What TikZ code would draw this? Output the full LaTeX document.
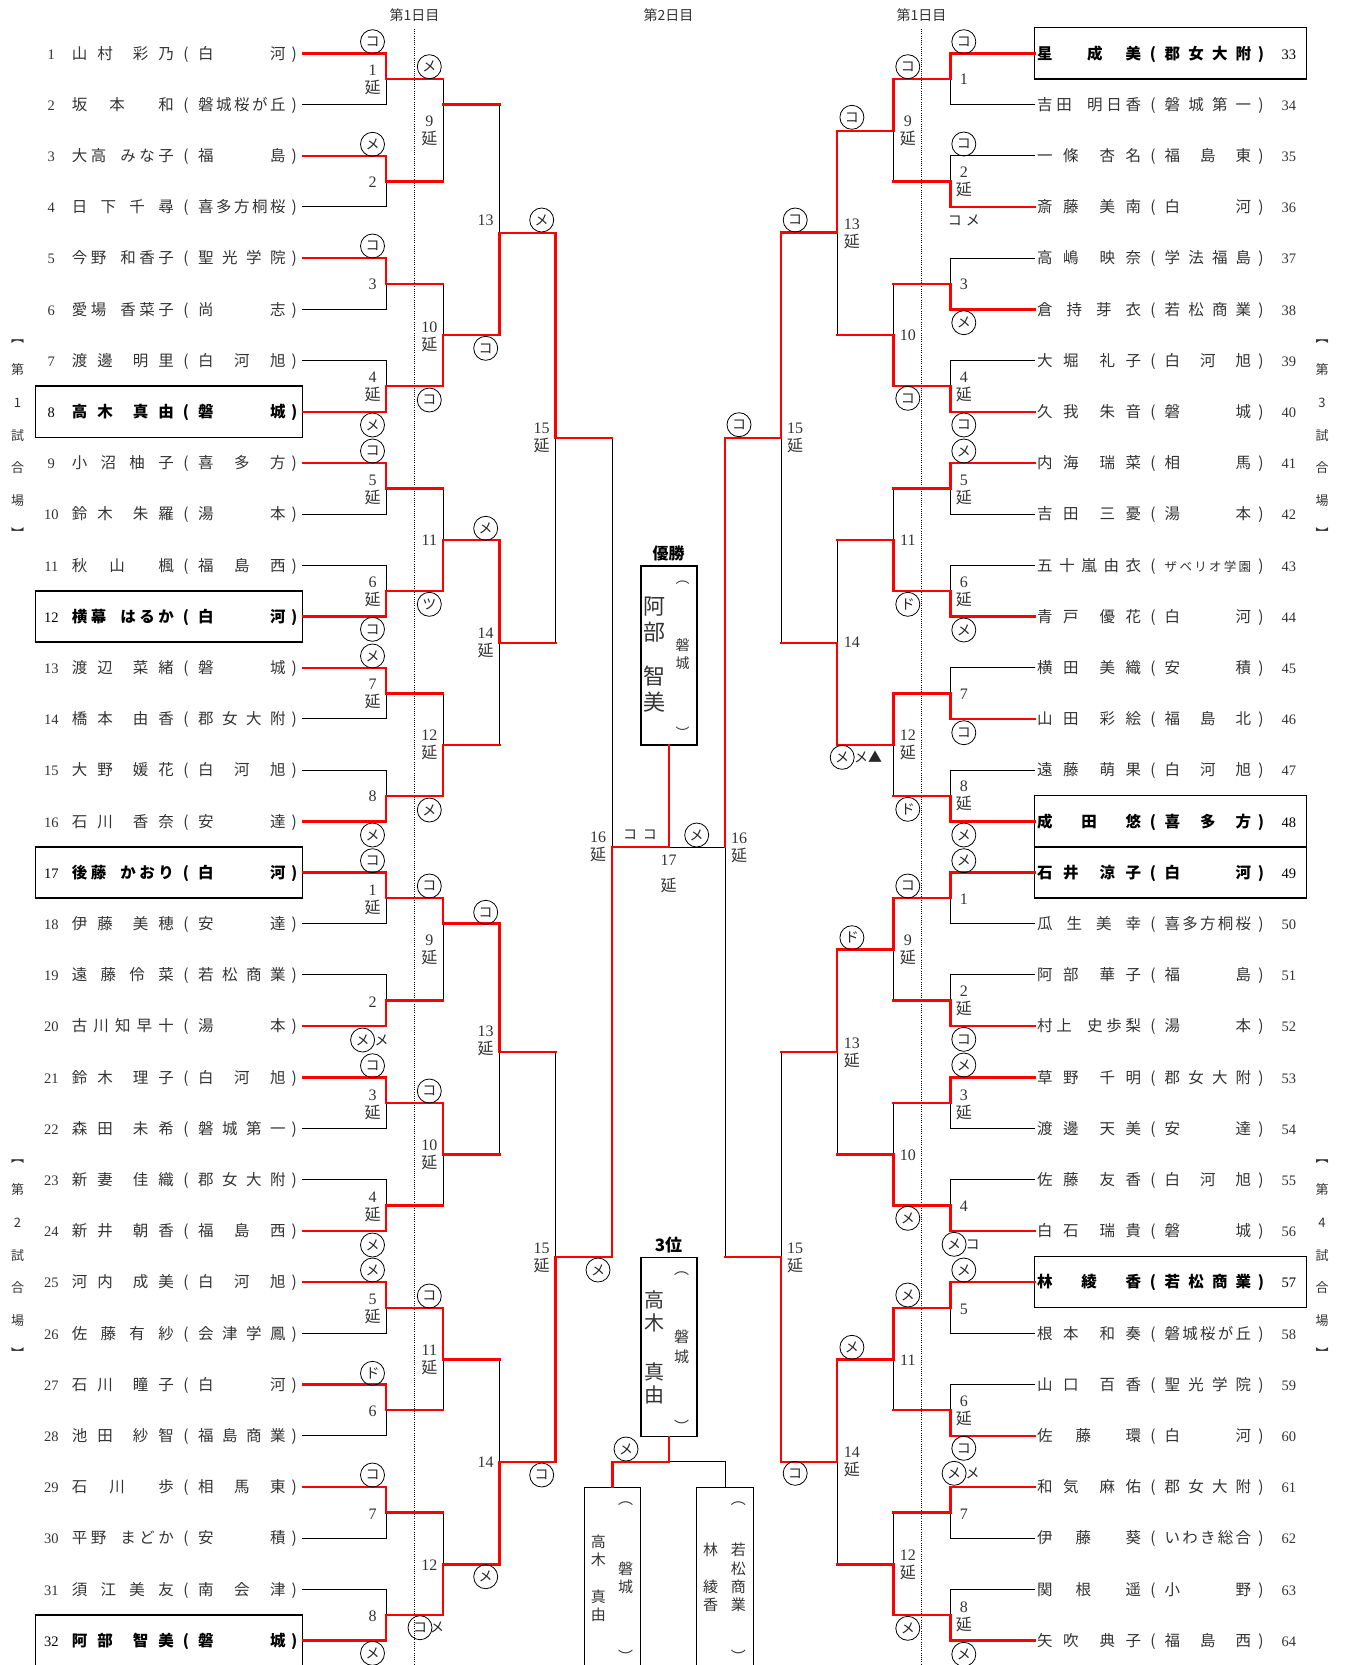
\documentclass[tikz,border=0pt]{standalone}
\usepackage{fontspec}
\setmainfont{Liberation Serif}
\newfontfamily\jp{Noto Sans CJK JP}
\newfontfamily\numfont{Liberation Serif}
\newcommand{\en}{{\jp 延}}
\newcommand{\lp}[3]{\makebox[31pt]{\numfont\mdseries\fontsize{14.5}{14.5}\selectfont #1}\hspace{5pt}\makebox[102pt]{#2}\makebox[24.4pt]{(}\makebox[87.5pt]{#3}\makebox[16.9pt]{)}}
\newcommand{\rp}[3]{\hspace{2.6pt}\makebox[104pt]{#2}\makebox[23.5pt]{(}\makebox[86.5pt]{#3}\makebox[19.6pt]{)}\makebox[36pt]{\numfont\mdseries\fontsize{14.5}{14.5}\selectfont #1}}

\begin{document}
\begin{tikzpicture}[x=1pt, y=-1pt,
  lose/.style={black, line width=1pt, line cap=rect},
  win/.style={red, line width=2.4pt, line cap=rect},
  dayline/.style={black, line width=1pt, dash pattern=on 1pt off 1.2pt},
  pbox/.style={black, line width=1.3pt},
  pl/.style={anchor=west, inner sep=0pt, text height=13.2pt, text depth=1.8pt, text=black!80, font=\jp\fontsize{15.5}{15.5}\selectfont},
  plb/.style={pl, text=black, font=\jp\bfseries\fontsize{15.5}{15.5}\selectfont},
  waza/.style={circle, draw, line width=0.8pt, minimum size=24pt, inner sep=0pt, text=black!85, font=\jp\fontsize{14}{14}\selectfont},
  kana/.style={inner sep=0pt, text=black!85, font=\jp\fontsize{14}{14}\selectfont},
  mno/.style={align=center, inner sep=0pt, text=black!80, font=\numfont\fontsize{16}{18}\selectfont},
  dayhd/.style={inner sep=0pt, text=black!80, font=\jp\fontsize{14}{14}\selectfont},
  venue/.style={align=center, inner sep=0pt, text=black!80, font=\jp\fontsize{13}{32.67}\selectfont},
  cbox/.style={draw, line width=1.2pt, minimum width=56pt, inner sep=0pt},
  vtxt/.style={align=center, inner sep=0pt, text=black!80}]
\useasboundingbox (0,0) rectangle (1345,1665);

% day columns
\draw[dayline] (414.6,29) -- (414.6,1665);
\draw[dayline] (921.5,29) -- (921.5,1665);
\node[dayhd] (d1) at (414.6,15) {第1日目};
\node[dayhd] (d2) at (668.5,15) {第2日目};
\node[dayhd] (d3) at (921.5,15) {第1日目};

% venues
\node[venue] (v1) at (17.5,438.7) {︻\\第\\1\\試\\合\\場\\︼};
\node[venue] (v2) at (17.5,1258.7) {︻\\第\\2\\試\\合\\場\\︼};
\node[venue] (v3) at (1322,438.7) {︻\\第\\3\\試\\合\\場\\︼};
\node[venue] (v4) at (1322,1258.7) {︻\\第\\4\\試\\合\\場\\︼};

% seeded boxes
\draw[pbox] (35.6,386.1) rectangle (302.4,437.3);
\draw[pbox] (35.6,590.9) rectangle (302.4,642.1);
\draw[pbox] (35.6,846.9) rectangle (302.4,898.1);
\draw[pbox] (35.6,1614.9) rectangle (302.4,1666.1);
\draw[pbox] (1034.4,27.7) rectangle (1306.4,78.9);
\draw[pbox] (1034.4,795.7) rectangle (1306.4,846.9);
\draw[pbox] (1034.4,846.9) rectangle (1306.4,898.1);
\draw[pbox] (1034.4,1256.5) rectangle (1306.4,1307.7);

% players, left
\node[pl] (p1) at (35.6,53.3) {\lp{1}{山\hfill 村\hfill\hfill 彩\hfill 乃}{白\hfill 河}};
\node[pl] (p2) at (35.6,104.5) {\lp{2}{坂\hfill\hfill 本\hfill\hfill\hfill 和}{磐\hfill 城\hfill 桜\hfill が\hfill 丘}};
\node[pl] (p3) at (35.6,155.7) {\lp{3}{大\hfill 高\hfill\hfill\hfill\hfill み\hfill な\hfill 子}{福\hfill 島}};
\node[pl] (p4) at (35.6,206.9) {\lp{4}{日\hfill 下\hfill 千\hfill 尋}{喜\hfill 多\hfill 方\hfill 桐\hfill 桜}};
\node[pl] (p5) at (35.6,258.1) {\lp{5}{今\hfill 野\hfill\hfill\hfill\hfill 和\hfill 香\hfill 子}{聖\hfill 光\hfill 学\hfill 院}};
\node[pl] (p6) at (35.6,309.3) {\lp{6}{愛\hfill 場\hfill\hfill\hfill\hfill 香\hfill 菜\hfill 子}{尚\hfill 志}};
\node[pl] (p7) at (35.6,360.5) {\lp{7}{渡\hfill 邊\hfill\hfill 明\hfill 里}{白\hfill 河\hfill 旭}};
\node[plb] (p8) at (35.6,411.7) {\lp{8}{高\hfill 木\hfill\hfill 真\hfill 由}{磐\hfill 城}};
\node[pl] (p9) at (35.6,462.9) {\lp{9}{小\hfill 沼\hfill 柚\hfill 子}{喜\hfill 多\hfill 方}};
\node[pl] (p10) at (35.6,514.1) {\lp{10}{鈴\hfill 木\hfill\hfill 朱\hfill 羅}{湯\hfill 本}};
\node[pl] (p11) at (35.6,565.3) {\lp{11}{秋\hfill\hfill 山\hfill\hfill\hfill 楓}{福\hfill 島\hfill 西}};
\node[plb] (p12) at (35.6,616.5) {\lp{12}{横\hfill 幕\hfill\hfill\hfill\hfill は\hfill る\hfill か}{白\hfill 河}};
\node[pl] (p13) at (35.6,667.7) {\lp{13}{渡\hfill 辺\hfill\hfill 菜\hfill 緒}{磐\hfill 城}};
\node[pl] (p14) at (35.6,718.9) {\lp{14}{橋\hfill 本\hfill\hfill 由\hfill 香}{郡\hfill 女\hfill 大\hfill 附}};
\node[pl] (p15) at (35.6,770.1) {\lp{15}{大\hfill 野\hfill\hfill 媛\hfill 花}{白\hfill 河\hfill 旭}};
\node[pl] (p16) at (35.6,821.3) {\lp{16}{石\hfill 川\hfill\hfill 香\hfill 奈}{安\hfill 達}};
\node[plb] (p17) at (35.6,872.5) {\lp{17}{後\hfill 藤\hfill\hfill\hfill\hfill か\hfill お\hfill り}{白\hfill 河}};
\node[pl] (p18) at (35.6,923.7) {\lp{18}{伊\hfill 藤\hfill\hfill 美\hfill 穂}{安\hfill 達}};
\node[pl] (p19) at (35.6,974.9) {\lp{19}{遠\hfill 藤\hfill 伶\hfill 菜}{若\hfill 松\hfill 商\hfill 業}};
\node[pl] (p20) at (35.6,1026.1) {\lp{20}{古\hfill 川\hfill 知\hfill 早\hfill 十}{湯\hfill 本}};
\node[pl] (p21) at (35.6,1077.3) {\lp{21}{鈴\hfill 木\hfill\hfill 理\hfill 子}{白\hfill 河\hfill 旭}};
\node[pl] (p22) at (35.6,1128.5) {\lp{22}{森\hfill 田\hfill\hfill 未\hfill 希}{磐\hfill 城\hfill 第\hfill 一}};
\node[pl] (p23) at (35.6,1179.7) {\lp{23}{新\hfill 妻\hfill\hfill 佳\hfill 織}{郡\hfill 女\hfill 大\hfill 附}};
\node[pl] (p24) at (35.6,1230.9) {\lp{24}{新\hfill 井\hfill\hfill 朝\hfill 香}{福\hfill 島\hfill 西}};
\node[pl] (p25) at (35.6,1282.1) {\lp{25}{河\hfill 内\hfill\hfill 成\hfill 美}{白\hfill 河\hfill 旭}};
\node[pl] (p26) at (35.6,1333.3) {\lp{26}{佐\hfill 藤\hfill 有\hfill 紗}{会\hfill 津\hfill 学\hfill 鳳}};
\node[pl] (p27) at (35.6,1384.5) {\lp{27}{石\hfill 川\hfill\hfill 瞳\hfill 子}{白\hfill 河}};
\node[pl] (p28) at (35.6,1435.7) {\lp{28}{池\hfill 田\hfill\hfill 紗\hfill 智}{福\hfill 島\hfill 商\hfill 業}};
\node[pl] (p29) at (35.6,1486.9) {\lp{29}{石\hfill\hfill 川\hfill\hfill\hfill 歩}{相\hfill 馬\hfill 東}};
\node[pl] (p30) at (35.6,1538.1) {\lp{30}{平\hfill 野\hfill\hfill\hfill\hfill ま\hfill ど\hfill か}{安\hfill 積}};
\node[pl] (p31) at (35.6,1589.3) {\lp{31}{須\hfill 江\hfill 美\hfill 友}{南\hfill 会\hfill 津}};
\node[plb] (p32) at (35.6,1640.5) {\lp{32}{阿\hfill 部\hfill\hfill 智\hfill 美}{磐\hfill 城}};

% players, right
\node[plb] (p33) at (1034.4,53.3) {\rp{33}{星\hfill\hfill\hfill 成\hfill\hfill 美}{郡\hfill 女\hfill 大\hfill 附}};
\node[pl] (p34) at (1034.4,104.5) {\rp{34}{吉\hfill 田\hfill\hfill\hfill\hfill 明\hfill 日\hfill 香}{磐\hfill 城\hfill 第\hfill 一}};
\node[pl] (p35) at (1034.4,155.7) {\rp{35}{一\hfill 條\hfill\hfill 杏\hfill 名}{福\hfill 島\hfill 東}};
\node[pl] (p36) at (1034.4,206.9) {\rp{36}{斎\hfill 藤\hfill\hfill 美\hfill 南}{白\hfill 河}};
\node[pl] (p37) at (1034.4,258.1) {\rp{37}{高\hfill 嶋\hfill\hfill 映\hfill 奈}{学\hfill 法\hfill 福\hfill 島}};
\node[pl] (p38) at (1034.4,309.3) {\rp{38}{倉\hfill 持\hfill 芽\hfill 衣}{若\hfill 松\hfill 商\hfill 業}};
\node[pl] (p39) at (1034.4,360.5) {\rp{39}{大\hfill 堀\hfill\hfill 礼\hfill 子}{白\hfill 河\hfill 旭}};
\node[pl] (p40) at (1034.4,411.7) {\rp{40}{久\hfill 我\hfill\hfill 朱\hfill 音}{磐\hfill 城}};
\node[pl] (p41) at (1034.4,462.9) {\rp{41}{内\hfill 海\hfill\hfill 瑞\hfill 菜}{相\hfill 馬}};
\node[pl] (p42) at (1034.4,514.1) {\rp{42}{吉\hfill 田\hfill\hfill 三\hfill 憂}{湯\hfill 本}};
\node[pl] (p43) at (1034.4,565.3) {\rp{43}{五\hfill 十\hfill 嵐\hfill 由\hfill 衣}{\fontsize{12.5}{12.5}\selectfont ザ\hfill ベ\hfill リ\hfill オ\hfill 学\hfill 園}};
\node[pl] (p44) at (1034.4,616.5) {\rp{44}{青\hfill 戸\hfill\hfill 優\hfill 花}{白\hfill 河}};
\node[pl] (p45) at (1034.4,667.7) {\rp{45}{横\hfill 田\hfill\hfill 美\hfill 織}{安\hfill 積}};
\node[pl] (p46) at (1034.4,718.9) {\rp{46}{山\hfill 田\hfill\hfill 彩\hfill 絵}{福\hfill 島\hfill 北}};
\node[pl] (p47) at (1034.4,770.1) {\rp{47}{遠\hfill 藤\hfill\hfill 萌\hfill 果}{白\hfill 河\hfill 旭}};
\node[plb] (p48) at (1034.4,821.3) {\rp{48}{成\hfill 田\hfill 悠}{喜\hfill 多\hfill 方}};
\node[plb] (p49) at (1034.4,872.5) {\rp{49}{石\hfill 井\hfill\hfill 涼\hfill 子}{白\hfill 河}};
\node[pl] (p50) at (1034.4,923.7) {\rp{50}{瓜\hfill 生\hfill 美\hfill 幸}{喜\hfill 多\hfill 方\hfill 桐\hfill 桜}};
\node[pl] (p51) at (1034.4,974.9) {\rp{51}{阿\hfill 部\hfill\hfill 華\hfill 子}{福\hfill 島}};
\node[pl] (p52) at (1034.4,1026.1) {\rp{52}{村\hfill 上\hfill\hfill\hfill\hfill 史\hfill 歩\hfill 梨}{湯\hfill 本}};
\node[pl] (p53) at (1034.4,1077.3) {\rp{53}{草\hfill 野\hfill\hfill 千\hfill 明}{郡\hfill 女\hfill 大\hfill 附}};
\node[pl] (p54) at (1034.4,1128.5) {\rp{54}{渡\hfill 邊\hfill\hfill 天\hfill 美}{安\hfill 達}};
\node[pl] (p55) at (1034.4,1179.7) {\rp{55}{佐\hfill 藤\hfill\hfill 友\hfill 香}{白\hfill 河\hfill 旭}};
\node[pl] (p56) at (1034.4,1230.9) {\rp{56}{白\hfill 石\hfill\hfill 瑞\hfill 貴}{磐\hfill 城}};
\node[plb] (p57) at (1034.4,1282.1) {\rp{57}{林\hfill 綾\hfill 香}{若\hfill 松\hfill 商\hfill 業}};
\node[pl] (p58) at (1034.4,1333.3) {\rp{58}{根\hfill 本\hfill\hfill 和\hfill 奏}{磐\hfill 城\hfill 桜\hfill が\hfill 丘}};
\node[pl] (p59) at (1034.4,1384.5) {\rp{59}{山\hfill 口\hfill\hfill 百\hfill 香}{聖\hfill 光\hfill 学\hfill 院}};
\node[pl] (p60) at (1034.4,1435.7) {\rp{60}{佐\hfill\hfill 藤\hfill\hfill\hfill 環}{白\hfill 河}};
\node[pl] (p61) at (1034.4,1486.9) {\rp{61}{和\hfill 気\hfill\hfill 麻\hfill 佑}{郡\hfill 女\hfill 大\hfill 附}};
\node[pl] (p62) at (1034.4,1538.1) {\rp{62}{伊\hfill\hfill 藤\hfill\hfill\hfill 葵}{い\hfill わ\hfill き\hfill 総\hfill 合}};
\node[pl] (p63) at (1034.4,1589.3) {\rp{63}{関\hfill\hfill 根\hfill\hfill\hfill 遥}{小\hfill 野}};
\node[pl] (p64) at (1034.4,1640.5) {\rp{64}{矢\hfill 吹\hfill\hfill 典\hfill 子}{福\hfill 島\hfill 西}};

% final boxes
\node[cbox, minimum height=179pt] (champ) at (669,655.5) {};
\node[cbox, minimum height=179.4pt] (third) at (669,1347) {};
\node[cbox, minimum width=56.4pt, minimum height=200pt] (semiL) at (612.5,1587.3) {};
\node[cbox, minimum width=56.4pt, minimum height=200pt] (semiR) at (725,1587.3) {};

% losing lines, round 1
\draw[lose] (p2.east) -| (386,78.9);
\draw[lose] (p4.east) -| (386,181.3);
\draw[lose] (p6.east) -| (386,283.7);
\draw[lose] (p7.east) -| (386,386.1);
\draw[lose] (p10.east) -| (386,488.5);
\draw[lose] (p11.east) -| (386,590.9);
\draw[lose] (p14.east) -| (386,693.3);
\draw[lose] (p15.east) -| (386,795.7);
\draw[lose] (p18.east) -| (386,898.1);
\draw[lose] (p19.east) -| (386,1000.5);
\draw[lose] (p22.east) -| (386,1102.9);
\draw[lose] (p23.east) -| (386,1205.3);
\draw[lose] (p26.east) -| (386,1307.7);
\draw[lose] (p28.east) -| (386,1410.1);
\draw[lose] (p30.east) -| (386,1512.5);
\draw[lose] (p31.east) -| (386,1614.9);
\draw[lose] (p34.west) -| (950.5,78.9);
\draw[lose] (p35.west) -| (950.5,181.3);
\draw[lose] (p37.west) -| (950.5,283.7);
\draw[lose] (p39.west) -| (950.5,386.1);
\draw[lose] (p42.west) -| (950.5,488.5);
\draw[lose] (p43.west) -| (950.5,590.9);
\draw[lose] (p45.west) -| (950.5,693.3);
\draw[lose] (p47.west) -| (950.5,795.7);
\draw[lose] (p50.west) -| (950.5,898.1);
\draw[lose] (p51.west) -| (950.5,1000.5);
\draw[lose] (p54.west) -| (950.5,1102.9);
\draw[lose] (p55.west) -| (950.5,1205.3);
\draw[lose] (p58.west) -| (950.5,1307.7);
\draw[lose] (p59.west) -| (950.5,1410.1);
\draw[lose] (p62.west) -| (950.5,1512.5);
\draw[lose] (p63.west) -| (950.5,1614.9);

% losing lines, later rounds
\draw[lose] (443,78.9) -- (443,181.3);
\draw[lose] (443,283.7) -- (443,386.1);
\draw[lose] (443,488.5) -- (443,590.9);
\draw[lose] (443,693.3) -- (443,795.7);
\draw[lose] (443,898.1) -- (443,1000.5);
\draw[lose] (443,1102.9) -- (443,1205.3);
\draw[lose] (443,1307.7) -- (443,1410.1);
\draw[lose] (443,1512.5) -- (443,1614.9);
\draw[lose] (893.5,78.9) -- (893.5,181.3);
\draw[lose] (893.5,283.7) -- (893.5,386.1);
\draw[lose] (893.5,488.5) -- (893.5,590.9);
\draw[lose] (893.5,693.3) -- (893.5,795.7);
\draw[lose] (893.5,898.1) -- (893.5,1000.5);
\draw[lose] (893.5,1102.9) -- (893.5,1205.3);
\draw[lose] (893.5,1307.7) -- (893.5,1410.1);
\draw[lose] (893.5,1512.5) -- (893.5,1614.9);
\draw[lose] (499.5,104.5) -- (499.5,335);
\draw[lose] (499.5,540) -- (499.5,745);
\draw[lose] (499.5,923.5) -- (499.5,1154.3);
\draw[lose] (499.5,1359.3) -- (499.5,1564.3);
\draw[lose] (837,130.7) -- (837,335);
\draw[lose] (837,540) -- (837,745);
\draw[lose] (837,949.3) -- (837,1154.3);
\draw[lose] (837,1359.3) -- (837,1564.3);
\draw[lose] (555.5,232.7) -- (555.5,642.7);
\draw[lose] (555.5,1052) -- (555.5,1461.7);
\draw[lose] (781,232.5) -- (781,642.7);
\draw[lose] (781,1051.8) -- (781,1461.7);
\draw[lose] (612,437.7) -- (612,1256.7);
\draw[lose] (725,437.7) -- (725,1256.7);
\draw[lose] (669,847) -- (725,847);
\draw[lose] (669,1461.7) -- (725,1461.7) -- (semiR.north);

% winning lines, round 1
\draw[win] (p1.east) -| (386,78.9) -- (443,78.9);
\draw[win] (p3.east) -| (386,181.3) -- (443,181.3);
\draw[win] (p5.east) -| (386,283.7) -- (443,283.7);
\draw[win] (p8.east) -| (386,386.1) -- (443,386.1);
\draw[win] (p9.east) -| (386,488.5) -- (443,488.5);
\draw[win] (p12.east) -| (386,590.9) -- (443,590.9);
\draw[win] (p13.east) -| (386,693.3) -- (443,693.3);
\draw[win] (p16.east) -| (386,795.7) -- (443,795.7);
\draw[win] (p17.east) -| (386,898.1) -- (443,898.1);
\draw[win] (p20.east) -| (386,1000.5) -- (443,1000.5);
\draw[win] (p21.east) -| (386,1102.9) -- (443,1102.9);
\draw[win] (p24.east) -| (386,1205.3) -- (443,1205.3);
\draw[win] (p25.east) -| (386,1307.7) -- (443,1307.7);
\draw[win] (p27.east) -| (386,1410.1) -- (443,1410.1);
\draw[win] (p29.east) -| (386,1512.5) -- (443,1512.5);
\draw[win] (p32.east) -| (386,1614.9) -- (443,1614.9);
\draw[win] (p33.west) -| (950.5,78.9) -- (893.5,78.9);
\draw[win] (p36.west) -| (950.5,181.3) -- (893.5,181.3);
\draw[win] (p38.west) -| (950.5,283.7) -- (893.5,283.7);
\draw[win] (p40.west) -| (950.5,386.1) -- (893.5,386.1);
\draw[win] (p41.west) -| (950.5,488.5) -- (893.5,488.5);
\draw[win] (p44.west) -| (950.5,590.9) -- (893.5,590.9);
\draw[win] (p46.west) -| (950.5,693.3) -- (893.5,693.3);
\draw[win] (p48.west) -| (950.5,795.7) -- (893.5,795.7);
\draw[win] (p49.west) -| (950.5,898.1) -- (893.5,898.1);
\draw[win] (p52.west) -| (950.5,1000.5) -- (893.5,1000.5);
\draw[win] (p53.west) -| (950.5,1102.9) -- (893.5,1102.9);
\draw[win] (p56.west) -| (950.5,1205.3) -- (893.5,1205.3);
\draw[win] (p57.west) -| (950.5,1307.7) -- (893.5,1307.7);
\draw[win] (p60.west) -| (950.5,1410.1) -- (893.5,1410.1);
\draw[win] (p61.west) -| (950.5,1512.5) -- (893.5,1512.5);
\draw[win] (p64.west) -| (950.5,1614.9) -- (893.5,1614.9);

% winning lines, round 2
\draw[win] (443,104.5) -- (499.5,104.5);
\draw[win] (443,386.1) -- (443,335) -- (499.5,335);
\draw[win] (443,590.9) -- (443,540) -- (499.5,540);
\draw[win] (443,795.7) -- (443,745) -- (499.5,745);
\draw[win] (443,898.1) -- (443,923.5) -- (499.5,923.5);
\draw[win] (443,1102.9) -- (443,1154.3) -- (499.5,1154.3);
\draw[win] (443,1307.7) -- (443,1359.3) -- (499.5,1359.3);
\draw[win] (443,1614.9) -- (443,1564.3) -- (499.5,1564.3);
\draw[win] (893.5,78.9) -- (893.5,130.7) -- (837,130.7);
\draw[win] (893.5,386.1) -- (893.5,335) -- (837,335);
\draw[win] (893.5,590.9) -- (893.5,540) -- (837,540);
\draw[win] (893.5,693.3) -- (893.5,745) -- (837,745);
\draw[win] (893.5,898.1) -- (893.5,949.3) -- (837,949.3);
\draw[win] (893.5,1205.3) -- (893.5,1154.3) -- (837,1154.3);
\draw[win] (893.5,1307.7) -- (893.5,1359.3) -- (837,1359.3);
\draw[win] (893.5,1614.9) -- (893.5,1564.3) -- (837,1564.3);

% winning lines, rounds 3 to 5
\draw[win] (499.5,335) -- (499.5,232.7) -- (555.5,232.7);
\draw[win] (499.5,540) -- (499.5,642.7) -- (555.5,642.7);
\draw[win] (499.5,923.5) -- (499.5,1052) -- (555.5,1052);
\draw[win] (499.5,1564.3) -- (499.5,1461.7) -- (555.5,1461.7);
\draw[win] (837,130.7) -- (837,232.5) -- (781,232.5);
\draw[win] (837,745) -- (837,642.7) -- (781,642.7);
\draw[win] (837,949.3) -- (837,1051.8) -- (781,1051.8);
\draw[win] (837,1359.3) -- (837,1461.7) -- (781,1461.7);
\draw[win] (555.5,232.7) -- (555.5,437.7) -- (612,437.7);
\draw[win] (555.5,1461.7) -- (555.5,1256.7) -- (612,1256.7);
\draw[win] (781,232.5) -- (781,437.7) -- (725,437.7);
\draw[win] (781,1461.7) -- (781,1256.7) -- (725,1256.7);
\draw[win] (725,437.7) -- (725,847);
\draw[win] (612,1256.7) -- (612,847) -- (669,847) -- (champ.south);
\draw[win] (third.south) -- (669,1461.7) -- (612.5,1461.7) -- (semiL.north);

% match numbers, left
\node[mno] (lm1) at (372.5,79.9) {1\\\en};
\node[mno] (lm2) at (372.5,182.2) {2};
\node[mno] (lm3) at (372.5,284) {3};
\node[mno] (lm4) at (372.5,387.2) {4\\\en};
\node[mno] (lm5) at (372.5,489.5) {5\\\en};
\node[mno] (lm6) at (372.5,591.7) {6\\\en};
\node[mno] (lm7) at (372.5,694.2) {7\\\en};
\node[mno] (lm8) at (372.5,796.7) {8};
\node[mno] (lm9) at (372.5,899.5) {1\\\en};
\node[mno] (lm10) at (372.5,1001.7) {2};
\node[mno] (lm11) at (372.5,1104.5) {3\\\en};
\node[mno] (lm12) at (372.5,1207.2) {4\\\en};
\node[mno] (lm13) at (372.5,1309.2) {5\\\en};
\node[mno] (lm14) at (372.5,1411.7) {6};
\node[mno] (lm15) at (372.5,1514.3) {7};
\node[mno] (lm16) at (372.5,1616) {8};
\node[mno] (lm17) at (429.3,131.2) {9\\\en};
\node[mno] (lm18) at (429.3,336.7) {10\\\en};
\node[mno] (lm19) at (429.3,540) {11};
\node[mno] (lm20) at (429.3,744.7) {12\\\en};
\node[mno] (lm21) at (429.3,950) {9\\\en};
\node[mno] (lm22) at (429.3,1155) {10\\\en};
\node[mno] (lm23) at (429.3,1360.2) {11\\\en};
\node[mno] (lm24) at (429.3,1565) {12};
\node[mno] (lm25) at (485.7,220.7) {13};
\node[mno] (lm26) at (485.7,643.3) {14\\\en};
\node[mno] (lm27) at (485.7,1040.5) {13\\\en};
\node[mno] (lm28) at (485.7,1462.3) {14};
\node[mno] (lm29) at (541.7,438) {15\\\en};
\node[mno] (lm30) at (541.7,1257.7) {15\\\en};
\node[mno] (lm31) at (598,846.7) {16\\\en};

% match numbers, right
\node[mno] (rm1) at (963.8,79) {1};
\node[mno] (rm2) at (963.8,182.2) {2\\\en};
\node[mno] (rm3) at (963.8,284.3) {3};
\node[mno] (rm4) at (963.8,387.2) {4\\\en};
\node[mno] (rm5) at (963.8,489.5) {5\\\en};
\node[mno] (rm6) at (963.8,591.7) {6\\\en};
\node[mno] (rm7) at (963.8,694) {7};
\node[mno] (rm8) at (963.8,796.3) {8\\\en};
\node[mno] (rm9) at (963.8,899.3) {1};
\node[mno] (rm10) at (963.8,1001.3) {2\\\en};
\node[mno] (rm11) at (963.8,1104.5) {3\\\en};
\node[mno] (rm12) at (963.8,1206.7) {4};
\node[mno] (rm13) at (963.8,1309.3) {5};
\node[mno] (rm14) at (963.8,1411.3) {6\\\en};
\node[mno] (rm15) at (963.8,1514.3) {7};
\node[mno] (rm16) at (963.8,1616.7) {8\\\en};
\node[mno] (rm17) at (907.8,131.3) {9\\\en};
\node[mno] (rm18) at (907.8,335) {10};
\node[mno] (rm19) at (907.8,540) {11};
\node[mno] (rm20) at (907.8,744.7) {12\\\en};
\node[mno] (rm21) at (907.8,950) {9\\\en};
\node[mno] (rm22) at (907.8,1155) {10};
\node[mno] (rm23) at (907.8,1360) {11};
\node[mno] (rm24) at (907.8,1564.7) {12\\\en};
\node[mno] (rm25) at (851.9,233.7) {13\\\en};
\node[mno] (rm26) at (851.9,642.7) {14};
\node[mno] (rm27) at (851.9,1053) {13\\\en};
\node[mno] (rm28) at (851.9,1462.2) {14\\\en};
\node[mno] (rm29) at (795.2,437.9) {15\\\en};
\node[mno] (rm30) at (795.2,1257.5) {15\\\en};
\node[mno] (rm31) at (739,848) {16\\\en};
\node[mno, font=\numfont\fontsize{16}{26}\selectfont] (fm) at (668.5,873.5) {17\\\en};

% points, left
\node[waza] (lw1) at (372.5,41.7) {コ};
\node[waza] (lw2) at (372.5,144.3) {メ};
\node[waza] (lw3) at (372.5,246) {コ};
\node[waza] (lw4) at (372.5,425) {メ};
\node[waza] (lw5) at (372.5,451) {コ};
\node[waza] (lw6) at (372.5,629.3) {コ};
\node[waza] (lw7) at (372.5,656) {メ};
\node[waza] (lw8) at (372.5,835) {メ};
\node[waza] (lw9) at (372.5,860.7) {コ};
\node[waza] (lw10) at (362.6,1040) {メ};
\node[kana] (lt1) at (381.6,1040) {メ};
\node[waza] (lw11) at (372.5,1065.7) {コ};
\node[waza] (lw12) at (372.5,1245) {メ};
\node[waza] (lw13) at (372.5,1270) {メ};
\node[waza] (lw14) at (372.5,1373.3) {ド};
\node[waza] (lw15) at (372.5,1475) {コ};
\node[waza] (lw16) at (372.5,1653.3) {メ};
\node[waza] (lw17) at (429.3,66.7) {メ};
\node[waza] (lw18) at (429.3,400) {コ};
\node[waza] (lw19) at (429.3,604.3) {ツ};
\node[waza] (lw20) at (429.3,810) {メ};
\node[waza] (lw21) at (429.3,886) {コ};
\node[waza] (lw22) at (429.3,1091) {コ};
\node[waza] (lw23) at (429.3,1296) {コ};
\node[waza] (lw24) at (420,1627.7) {コ};
\node[kana] (lt2) at (437,1627.7) {メ};
\node[waza] (lw25) at (485.7,348.3) {コ};
\node[waza] (lw26) at (485.7,528.3) {メ};
\node[waza] (lw27) at (485.7,912.3) {コ};
\node[waza] (lw28) at (485.7,1576.7) {メ};
\node[waza] (lw29) at (541.7,220) {メ};
\node[waza] (lw30) at (541.7,1475) {コ};
\node[waza] (lw31) at (598,1270) {メ};

% points, right
\node[waza] (rw1) at (963.8,41.7) {コ};
\node[waza] (rw2) at (963.8,144) {コ};
\node[kana] (rt1) at (963.8,220) {コ\hspace{4pt}メ};
\node[waza] (rw3) at (963.8,322.7) {メ};
\node[waza] (rw4) at (963.8,425) {コ};
\node[waza] (rw5) at (963.8,451) {メ};
\node[waza] (rw6) at (963.8,630) {メ};
\node[waza] (rw7) at (963.8,732.7) {コ};
\node[waza] (rw8) at (963.8,835) {メ};
\node[waza] (rw9) at (963.8,860.7) {メ};
\node[waza] (rw10) at (963.8,1039.3) {コ};
\node[waza] (rw11) at (963.8,1065) {メ};
\node[waza] (rw12) at (954.1,1244.3) {メ};
\node[kana] (rt2) at (972.6,1244.3) {コ};
\node[waza] (rw13) at (963.8,1270) {メ};
\node[waza] (rw14) at (963.8,1448.3) {コ};
\node[waza] (rw15) at (954.1,1473.3) {メ};
\node[kana] (rt3) at (972.6,1473.3) {メ};
\node[waza] (rw16) at (963.8,1654.3) {メ};
\node[waza] (rw17) at (907.8,66.7) {コ};
\node[waza] (rw18) at (907.8,398.3) {コ};
\node[waza] (rw19) at (907.8,604.3) {ド};
\node[waza] (rw20) at (907.8,809.3) {ド};
\node[waza] (rw21) at (907.8,886) {コ};
\node[waza] (rw22) at (907.8,1218.3) {メ};
\node[waza] (rw23) at (907.8,1295) {メ};
\node[waza] (rw24) at (907.8,1628.3) {メ};
\node[waza] (rw25) at (851.9,117.3) {コ};
\node[waza] (rw26) at (842.2,757.3) {メ};
\node[kana] (rt4) at (868,757.3) {メ▲};
\node[waza] (rw27) at (851.9,937.7) {ド};
\node[waza] (rw28) at (851.9,1347.3) {メ};
\node[waza] (rw29) at (795.2,220) {コ};
\node[waza] (rw30) at (795.2,1473.3) {コ};
\node[waza] (rw31) at (739,424.7) {コ};

% points, final and third place
\node[kana] (ft1) at (640,835) {コ\hspace{6pt}コ};
\node[waza] (fw1) at (696.7,835) {メ};
\node[waza] (tw1) at (626,1449) {メ};

% champion and third place
\node[inner sep=0pt, font=\jp\bfseries\fontsize{16}{16}\selectfont] (win1) at (668.5,553) {優勝};
\node[inner sep=0pt, font=\jp\bfseries\fontsize{17}{17}\selectfont] (win3) at (668.5,1245) {3位};
\node[vtxt, font=\jp\fontsize{22}{26.5}\selectfont] (ca1) at (654,619.5) {阿\\部};
\node[vtxt, font=\jp\fontsize{22}{26.5}\selectfont] (ca2) at (654,689) {智\\美};
\node[vtxt, font=\jp\fontsize{14}{14}\selectfont] (ca3) at (682.6,583) {︵};
\node[vtxt, font=\jp\fontsize{14}{18}\selectfont] (ca4) at (682.6,654.5) {磐\\城};
\node[vtxt, font=\jp\fontsize{14}{14}\selectfont] (ca5) at (682.6,732.5) {︶};
\node[vtxt, font=\jp\fontsize{20}{23.3}\selectfont] (ta1) at (654.3,1311.7) {高\\木};
\node[vtxt, font=\jp\fontsize{20}{23.3}\selectfont] (ta2) at (654.3,1383.3) {真\\由};
\node[vtxt, font=\jp\fontsize{15}{15}\selectfont] (ta3) at (681.7,1273.3) {︵};
\node[vtxt, font=\jp\fontsize{15}{20}\selectfont] (ta4) at (681.7,1346.7) {磐\\城};
\node[vtxt, font=\jp\fontsize{15}{15}\selectfont] (ta5) at (681.7,1426.7) {︶};
\node[vtxt, font=\jp\fontsize{15}{18.3}\selectfont] (sa1) at (598.3,1550.8) {高\\木};
\node[vtxt, font=\jp\fontsize{15}{18.3}\selectfont] (sa2) at (598.3,1605.8) {真\\由};
\node[vtxt, font=\jp\fontsize{15}{15}\selectfont] (sa3) at (625.7,1503.3) {︵};
\node[vtxt, font=\jp\fontsize{15}{18.3}\selectfont] (sa4) at (625.7,1577.5) {磐\\城};
\node[vtxt, font=\jp\fontsize{15}{15}\selectfont] (sa5) at (625.7,1656.7) {︶};
\node[vtxt, font=\jp\fontsize{15}{18.3}\selectfont] (sb1) at (710.7,1550) {林};
\node[vtxt, font=\jp\fontsize{15}{18.3}\selectfont] (sb2) at (710.7,1595.8) {綾\\香};
\node[vtxt, font=\jp\fontsize{15}{15}\selectfont] (sb3) at (738.3,1503.3) {︵};
\node[vtxt, font=\jp\fontsize{15}{18.3}\selectfont] (sb4) at (738.3,1577.5) {若\\松\\商\\業};
\node[vtxt, font=\jp\fontsize{15}{15}\selectfont] (sb5) at (738.3,1656.7) {︶};
\end{tikzpicture}
\end{document}
